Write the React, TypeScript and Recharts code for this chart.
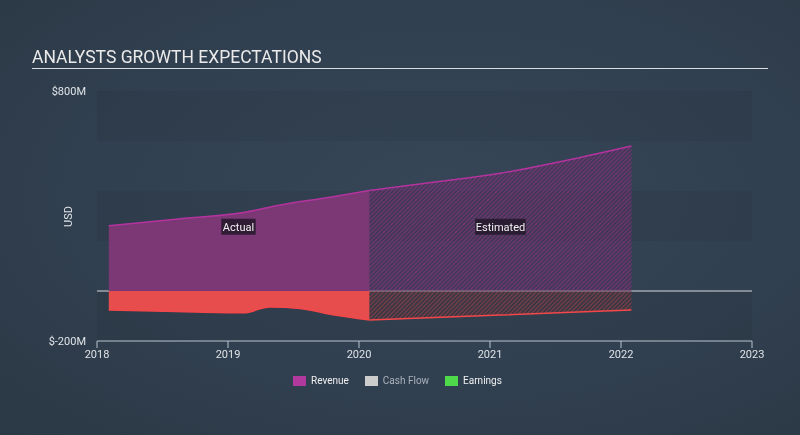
import React from 'react';
import {
  ComposedChart,
  Area,
  XAxis,
  YAxis,
  ReferenceArea,
  ReferenceLine,
  ReferenceDot,
} from 'recharts';

// values in $M, x as fractional year
const revenueActualX = [2018.09, 2018.6, 2019.13, 2019.4, 2019.78, 2020.08];
const revenueActual = [261, 287, 315, 344, 375, 402];
const revenueEstX = [2020.08, 2020.58, 2021.08, 2021.58, 2022.08];
const revenueEst = [402, 436, 471, 522, 580];
const earningsActualX = [2018.09, 2018.6, 2019.12, 2019.32, 2019.55, 2019.8, 2020.08];
const earningsActual = [-76, -82, -87, -64, -70, -95, -116];
const earningsEstX = [2020.08, 2021.08, 2022.08];
const earningsEst = [-116, -96, -76];

const yearTicks = [2018, 2019, 2020, 2021, 2022, 2023];
const valueTicks = [-200, 800];
const darkBands = [
  [600, 800],
  [200, 400],
  [-200, 0],
];
const phaseLabels = [
  { x: 2019.08, y: 257, text: 'Actual' },
  { x: 2021.08, y: 257, text: 'Estimated' },
];
const legendItems = [
  { name: 'Revenue', color: '#b1399e', text: '#f0f0f0' },
  { name: 'Cash Flow', color: '#cccccc', text: '#a9b1ba' },
  { name: 'Earnings', color: '#4ed94a', text: '#f0f0f0' },
];

type Row = { x: number; [k: string]: number };
const rowMap = new Map<number, Row>();
const put = (xs: number[], ys: number[], key: string) =>
  xs.forEach((x, i) => {
    const r = rowMap.get(x) ?? { x };
    r[key] = ys[i];
    rowMap.set(x, r);
  });
put(revenueActualX, revenueActual, 'revA');
put(revenueEstX, revenueEst, 'revE');
put(earningsActualX, earningsActual, 'earnA');
put(earningsEstX, earningsEst, 'earnE');
const data = [...rowMap.values()].sort((a, b) => a.x - b.x);

const font = 'Roboto, "Open Sans", sans-serif';

const fmtValue = (v: number) => `$${v}M`;

const PhaseLabel = (props: any) => {
  const { cx, cy, text } = props;
  const w = text.length * 5.4 + 2;
  return (
    <g>
      <rect x={cx - w / 2} y={cy - 8} width={w} height={16} fill="#23172a" fillOpacity={0.85} />
      <text
        x={cx}
        y={cy + 4}
        textAnchor="middle"
        fill="#f2f2f2"
        fontSize={11}
        fontFamily={font}
      >
        {text}
      </text>
    </g>
  );
};

export default function App() {
  return (
    <div
      style={{
        position: 'fixed',
        left: 0,
        top: 0,
        width: 800,
        height: 435,
        background: 'radial-gradient(ellipse at 55% 45%, #364656 0%, #314050 55%, #2b3845 100%)',
        fontFamily: font,
        overflow: 'hidden',
      }}
    >
      <div
        style={{
          position: 'absolute',
          left: 32,
          top: 48.5,
          fontSize: 17.5,
          lineHeight: '17.5px',
          color: '#eaeaea',
          whiteSpace: 'nowrap',
        }}
      >
        ANALYSTS GROWTH EXPECTATIONS
      </div>
      <div style={{ position: 'absolute', left: 32, top: 68, width: 736, height: 1, background: '#d9dde2' }} />

      <ComposedChart
        width={800}
        height={435}
        data={data}
        margin={{ top: 91, right: 48, bottom: 64, left: 37 }}
        style={{ position: 'absolute', left: 0, top: 0 }}
      >
        <defs>
          <pattern id="hatchRev" patternUnits="userSpaceOnUse" width={3} height={3} patternTransform="rotate(45)">
            <rect width={3} height={3} fill="#5c2a5e" fillOpacity={0.45} />
            <line x1={0} y1={0} x2={0} y2={3} stroke="#8e3688" strokeWidth={1.3} />
          </pattern>
          <pattern id="hatchEarn" patternUnits="userSpaceOnUse" width={3} height={3} patternTransform="rotate(45)">
            <rect width={3} height={3} fill="#4f2d36" fillOpacity={0.4} />
            <line x1={0} y1={0} x2={0} y2={3} stroke="#b54447" strokeWidth={1.1} />
          </pattern>
        </defs>
        {darkBands.map(([y1, y2], i) => (
          <ReferenceArea
            key={`band-${i}`}
            x1={2018}
            x2={2023}
            y1={y1}
            y2={y2}
            fill="#1c2631"
            fillOpacity={0.13}
            stroke="none"
            zIndex={-100}
            ifOverflow="visible"
          />
        ))}
        <XAxis
          dataKey="x"
          type="number"
          domain={[2018, 2023]}
          ticks={yearTicks}
          height={30}
          stroke="#b9c3cd"
          tickSize={7}
          tickMargin={2}
          tick={{ fill: '#dfe3e7', fontSize: 11, fontFamily: font }}
        />
        <YAxis
          type="number"
          domain={[-200, 800]}
          ticks={valueTicks}
          width={60}
          axisLine={false}
          tickLine={false}
          tickSize={0}
          tickMargin={11}
          tickFormatter={fmtValue}
          tick={{ fill: '#dfe3e7', fontSize: 11, fontFamily: font }}
        />
        <ReferenceLine y={0} stroke="#d6d9dd" strokeWidth={1} zIndex={50} />
        <Area
          dataKey="revA"
          type="monotone"
          connectNulls
          fill="#7b3875"
          fillOpacity={1}
          stroke="#b5339f"
          strokeWidth={1.5}
          isAnimationActive={false}
          dot={false}
          activeDot={false}
        />
        <Area
          dataKey="revE"
          type="monotone"
          connectNulls
          fill="url(#hatchRev)"
          fillOpacity={1}
          stroke="#b5339f"
          strokeWidth={1.5}
          isAnimationActive={false}
          dot={false}
          activeDot={false}
        />
        <Area
          dataKey="earnA"
          type="monotone"
          connectNulls
          fill="#e84d4e"
          fillOpacity={1}
          stroke="#f4474a"
          strokeWidth={1.5}
          isAnimationActive={false}
          dot={false}
          activeDot={false}
        />
        <Area
          dataKey="earnE"
          type="monotone"
          connectNulls
          fill="url(#hatchEarn)"
          fillOpacity={1}
          stroke="#f4474a"
          strokeWidth={1.5}
          isAnimationActive={false}
          dot={false}
          activeDot={false}
        />
        {phaseLabels.map((p) => (
          <ReferenceDot
            key={p.text}
            x={p.x}
            y={p.y}
            r={0}
            zIndex={2000}
            shape={(props: any) => <PhaseLabel {...props} text={p.text} />}
          />
        ))}
      </ComposedChart>

      <svg width={800} height={435} style={{ position: 'absolute', left: 0, top: 0, pointerEvents: 'none' }}>
        <text
          x={68}
          y={216.5}
          transform="rotate(-90 68 216.5)"
          textAnchor="middle"
          dominantBaseline="central"
          fill="#dfe3e7"
          fontSize={11}
          fontFamily={font}
        >
          USD
        </text>
      </svg>

      <div
        style={{
          position: 'absolute',
          left: 293,
          top: 375,
          display: 'flex',
          alignItems: 'center',
          fontSize: 10,
        }}
      >
        {legendItems.map((it) => (
          <div key={it.name} style={{ display: 'flex', alignItems: 'center', marginRight: 16 }}>
            <div style={{ width: 13, height: 10, background: it.color, marginRight: 5 }} />
            <span style={{ color: it.text }}>{it.name}</span>
          </div>
        ))}
      </div>
    </div>
  );
}
